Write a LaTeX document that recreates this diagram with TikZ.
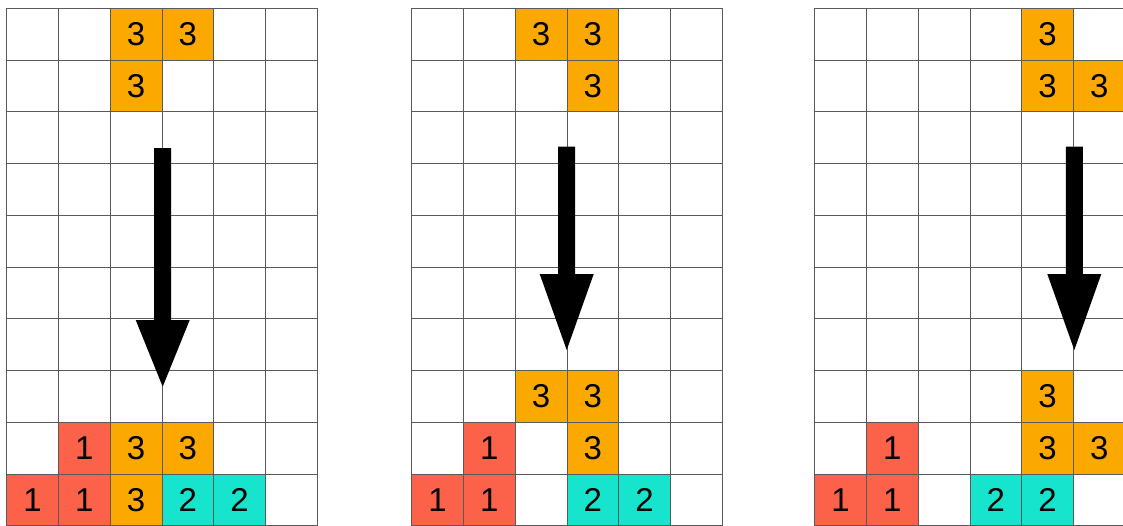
\documentclass[tikz,border=0pt]{standalone}
\usepackage{fontspec}
\setmainfont{Liberation Sans}
\definecolor{cOrange}{RGB}{251,168,0}
\definecolor{cRed}{RGB}{252,98,74}
\definecolor{cTeal}{RGB}{22,228,204}
\definecolor{gridc}{RGB}{90,90,90}
\newcommand\gcell[6]{\node[cellbox, fill=#4] (#6) at ({#1+#2*51.75}, {8.3+#3*51.75}) {#5};}
\newcommand\bigarrow[4]{\fill[black] ({#1-8.5},#2) -- ({#1+8.5},#2) -- ({#1+8.5},#3) -- ({#1+27},#3) -- (#1,#4) -- ({#1-27},#3) -- ({#1-8.5},#3) -- cycle;}
\begin{document}
\begin{tikzpicture}[x=1pt,y=-1pt,
  cellbox/.style={minimum width=51.75pt, minimum height=51.75pt, inner sep=0pt, outer sep=0pt,
    draw=none, anchor=north west, font=\fontsize{33}{36}\selectfont},
  gridline/.style={draw=gridc, line width=0.8pt}]
\useasboundingbox (0,0) rectangle (1123,525);
\fill[white] (0,0) rectangle (1123,525);
\clip (0,0) rectangle (1123,525);
% grid A
\gcell{6.7}{2}{0}{cOrange}{3}{a1}
\gcell{6.7}{3}{0}{cOrange}{3}{a2}
\gcell{6.7}{2}{1}{cOrange}{3}{a3}
\gcell{6.7}{1}{8}{cRed}{1}{a4}
\gcell{6.7}{2}{8}{cOrange}{3}{a5}
\gcell{6.7}{3}{8}{cOrange}{3}{a6}
\gcell{6.7}{0}{9}{cRed}{1}{a7}
\gcell{6.7}{1}{9}{cRed}{1}{a8}
\gcell{6.7}{2}{9}{cOrange}{3}{a9}
\gcell{6.7}{3}{9}{cTeal}{2}{a10}
\gcell{6.7}{4}{9}{cTeal}{2}{a11}
% grid B
\gcell{411.7}{2}{0}{cOrange}{3}{b1}
\gcell{411.7}{3}{0}{cOrange}{3}{b2}
\gcell{411.7}{3}{1}{cOrange}{3}{b3}
\gcell{411.7}{2}{7}{cOrange}{3}{b4}
\gcell{411.7}{3}{7}{cOrange}{3}{b5}
\gcell{411.7}{1}{8}{cRed}{1}{b6}
\gcell{411.7}{3}{8}{cOrange}{3}{b7}
\gcell{411.7}{0}{9}{cRed}{1}{b8}
\gcell{411.7}{1}{9}{cRed}{1}{b9}
\gcell{411.7}{3}{9}{cTeal}{2}{b10}
\gcell{411.7}{4}{9}{cTeal}{2}{b11}
% grid C
\gcell{814.7}{4}{0}{cOrange}{3}{c1}
\gcell{814.7}{4}{1}{cOrange}{3}{c2}
\gcell{814.7}{5}{1}{cOrange}{3}{c3}
\gcell{814.7}{4}{7}{cOrange}{3}{c4}
\gcell{814.7}{4}{8}{cOrange}{3}{c5}
\gcell{814.7}{5}{8}{cOrange}{3}{c6}
\gcell{814.7}{1}{8}{cRed}{1}{c7}
\gcell{814.7}{0}{9}{cRed}{1}{c8}
\gcell{814.7}{1}{9}{cRed}{1}{c9}
\gcell{814.7}{3}{9}{cTeal}{2}{c10}
\gcell{814.7}{4}{9}{cTeal}{2}{c11}
% grid lines
\foreach \ox in {6.7,411.7,814.7} {
  \foreach \i in {0,...,6}
    \draw[gridline] ({\ox+\i*51.75}, 8.3) -- ({\ox+\i*51.75}, {8.3+10*51.75});
  \foreach \j in {0,...,10}
    \draw[gridline] (\ox, {8.3+\j*51.75}) -- ({\ox+6*51.75}, {8.3+\j*51.75});
}
% arrows
\bigarrow{162.7}{148}{320}{386.7}
\bigarrow{566.7}{146.7}{274}{350}
\bigarrow{1074.3}{146.7}{274}{350}
\end{tikzpicture}
\end{document}
